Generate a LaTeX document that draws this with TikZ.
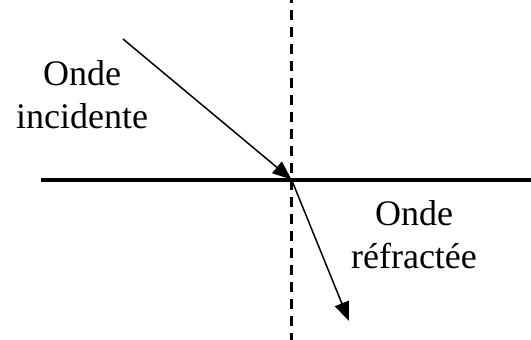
\documentclass[tikz,border=0pt]{standalone}
\usepackage{fontspec}
\setmainfont{Liberation Serif}
\usetikzlibrary{arrows.meta}
\begin{document}
\begin{tikzpicture}[x=1pt,y=-1pt,
  ray/.style={line width=1.5pt,-{Triangle[length=19pt,width=15pt]}},
  surface/.style={line width=4pt},
  normal/.style={line width=2.5pt,dash pattern=on 10pt off 7pt,dash phase=-10pt},
  lbl/.style={font=\fontsize{36}{43}\selectfont,align=center,inner sep=0pt,anchor=center}]
\useasboundingbox (0,0) rectangle (531,340);
\coordinate (O) at (291.5,179.5);
\coordinate (A) at (123,39);
\coordinate (B) at (349,321);
\coordinate (S1) at (41,179.5);
\coordinate (S2) at (531,179.5);
\coordinate (N1) at (291.5,0);
\coordinate (N2) at (291.5,340);
\draw[normal] (N1) -- (N2);
\draw[surface] (S1) -- (S2);
\draw[ray] (A) -- (O);
\draw[ray] (O) -- (B);
\node[lbl] (inc) at (82,94.2) {Onde\\incidente};
\node[lbl] (ref) at (414,234.2) {Onde\\réfractée};
\end{tikzpicture}
\end{document}
